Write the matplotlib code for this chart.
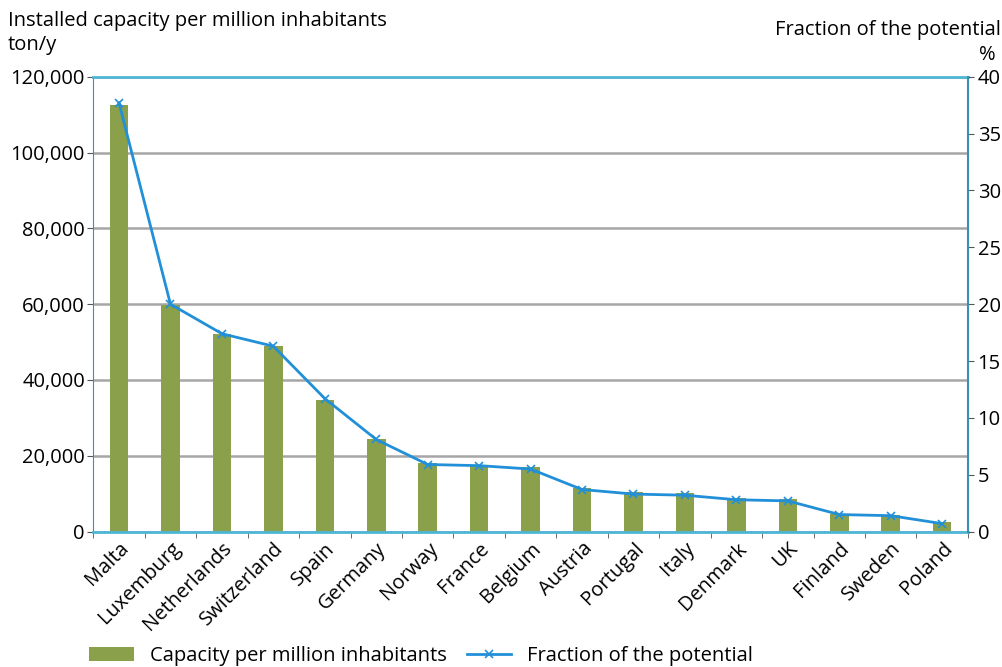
import matplotlib
matplotlib.use('Agg')
import matplotlib.pyplot as plt
from matplotlib.ticker import FuncFormatter, FixedLocator
import numpy as np

countries = ['Malta', 'Luxemburg', 'Netherlands', 'Switzerland', 'Spain', 'Germany',
             'Norway', 'France', 'Belgium', 'Austria', 'Portugal', 'Italy', 'Denmark',
             'UK', 'Finland', 'Sweden', 'Poland']
capacity = [112600, 59700, 52200, 48900, 34600, 24400, 18100, 17600, 17000,
            11600, 10400, 10200, 8800, 8600, 4600, 4400, 2500]
fraction = [37.7, 20.0, 17.4, 16.3, 11.7, 8.1, 5.9, 5.8, 5.5,
            3.7, 3.3, 3.2, 2.8, 2.7, 1.5, 1.4, 0.7]

plt.rcParams['font.family'] = ['Open Sans', 'DejaVu Sans']
plt.rcParams['font.size'] = 14.5

bar_col = '#8aa04a'
line_col = '#2290d8'
spine_col = '#4fb6d6'

fig = plt.figure(figsize=(10.03, 6.67), dpi=100)
ax = fig.add_axes([0.093, 0.203, 0.872, 0.682])
x = np.arange(len(countries))

ax.bar(x, capacity, width=0.36, color=bar_col, zorder=2, label='Capacity per million inhabitants')
ax.set_xlim(-0.5, len(countries) - 0.5)
ax.set_ylim(0, 120000)
ax.set_yticks(np.arange(0, 120001, 20000))
ax.yaxis.set_major_formatter(FuncFormatter(lambda v, p: f'{int(v):,}'))
ax.yaxis.grid(True, color='#a6a6a6', linewidth=1.8, zorder=0)
ax.set_xticks(x)
ax.set_xticklabels(countries, rotation=45, ha='right', rotation_mode='anchor')
ax.tick_params(axis='x', length=0, pad=5)
ax.xaxis.set_minor_locator(FixedLocator(np.arange(-0.5, len(countries), 1)))
ax.tick_params(axis='x', which='minor', length=4, color='#555555')
ax.tick_params(axis='y', length=4, color='#555555', pad=2)

for side in ['top', 'bottom']:
    ax.spines[side].set_color(spine_col)
    ax.spines[side].set_linewidth(2)
ax.spines['left'].set_color('#3a8fb7')
ax.spines['right'].set_visible(False)

ax2 = ax.twinx()
ax2.plot(x, fraction, color=line_col, linewidth=2, marker='x', markersize=6,
         markeredgewidth=1.2, label='Fraction of the potential', zorder=3)
ax2.set_ylim(0, 40)
ax2.set_yticks(np.arange(0, 41, 5))
ax2.tick_params(axis='y', length=4, color='#555555', pad=3)
for side in ['top', 'bottom', 'left']:
    ax2.spines[side].set_visible(False)
ax2.spines['right'].set_color('#3a8fb7')
ax2.spines['right'].set_linewidth(1.5)

fig.text(0.008, 0.968, 'Installed capacity per million inhabitants', ha='left', va='center')
fig.text(0.008, 0.932, 'ton/y', ha='left', va='center')
fig.text(0.998, 0.955, 'Fraction of the potential', ha='right', va='center')
fig.text(0.993, 0.918, '%', ha='right', va='center')

h1, l1 = ax.get_legend_handles_labels()
h2, l2 = ax2.get_legend_handles_labels()
fig.legend(h1 + h2, l1 + l2, loc='center', bbox_to_anchor=(0.42, 0.016), ncol=2,
           frameon=False, handlelength=2.2, handleheight=0.7, columnspacing=1.0,
           handletextpad=0.8)

fig.savefig('out.png', dpi=100)
